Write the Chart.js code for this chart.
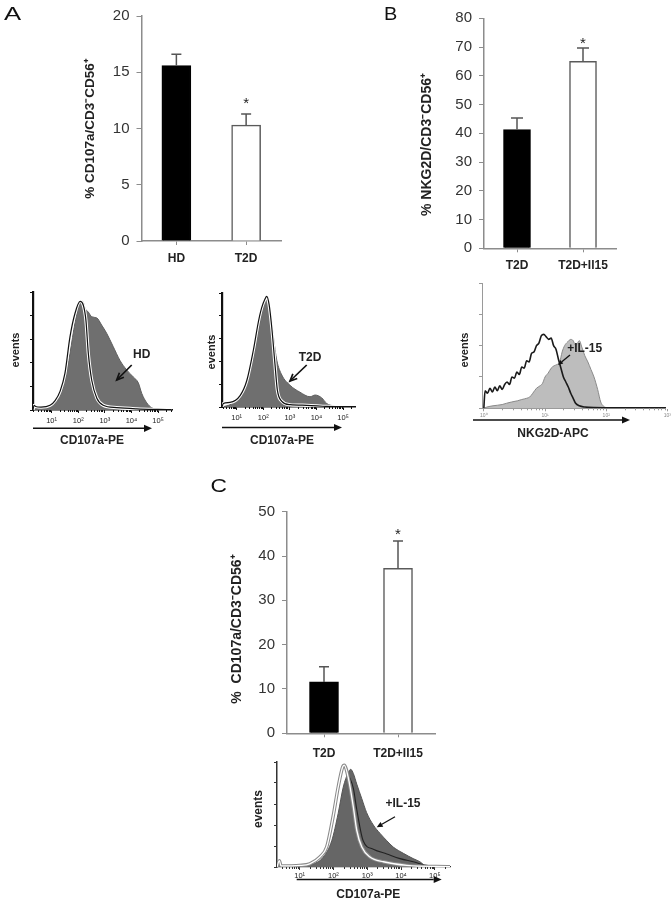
<!DOCTYPE html>
<html><head><meta charset="utf-8">
<script src="https://cdn.jsdelivr.net/npm/chart.js@4.4.1/dist/chart.umd.min.js"></script>
<style>
html,body{margin:0;padding:0;background:#fff;}
#page{position:relative;width:672px;height:903px;overflow:hidden;background:#fff;}
canvas{position:absolute;}
</style></head><body><div id="page"></div>
<script>
// ================= DATA =================
// Panel A – bar chart
const barA_labels = ['HD', 'T2D'];
const barA_values = [15.6, 10.3];
const barA_errors = [1.0, 1.0];
const barA_signif = ['', '*'];
const barA_yticks = [0, 5, 10, 15, 20];
// Panel B – bar chart
const barB_labels = ['T2D', 'T2D+Il15'];
const barB_values = [41.3, 65.0];
const barB_errors = [4.0, 4.7];
const barB_signif = ['', '*'];
const barB_yticks = [0, 10, 20, 30, 40, 50, 60, 70, 80];
// Panel C – bar chart
const barC_labels = ['T2D', 'T2D+Il15'];
const barC_values = [11.6, 37.2];
const barC_errors = [3.4, 6.2];
const barC_signif = ['', '*'];
const barC_yticks = [0, 10, 20, 30, 40, 50];

// Histogram decade tick labels
const decadeTicks = [1, 2, 3, 4, 5];
const decadeLabels = ['10¹', '10²', '10³', '10⁴', '10⁵'];
const decadeTicksB = [0, 1, 2, 3];
const decadeLabelsB = ['10⁰', '10¹', '10²', '10³'];

// Panel A left histogram (HD) – x in log10 units, y in % of max height
const hA1_fill_log = [0.30,0.38,0.60,0.94,1.15,1.32,1.50,1.69,1.88,2.07,2.17,2.26,2.38,2.51,2.70,2.88,3.07,3.31,3.57,3.82,4.07,4.26,4.39,4.58,4.76,5.08,5.50];
const hA1_fill_ev  = [0,   1,   1.5, 3,   7,   13,  25,  48,  74,  91,  92,  86,  83,  79,  78,  72,  65,  54,  42,  34,  28,  23,  14,  6,   2,   0,   0];
const hA1_ctrl_log = [0.30,0.34,0.40,0.60,0.94,1.13,1.32,1.50,1.69,1.88,2.07,2.19,2.29,2.38,2.51,2.70,2.94,3.45,4.20,5.00,5.50];
const hA1_ctrl_ev  = [0,   4,   3,   2.5, 4,   8,   16,  31,  62,  82,  92,  89,  76,  48,  25,  10,  4,   2,   1,   0.5, 0.3];
// Panel A right histogram (T2D)
const hA2_fill_log = [0.45,0.75,1.13,1.38,1.63,1.82,1.94,2.07,2.15,2.26,2.38,2.51,2.70,3.01,3.38,3.76,3.95,4.20,4.39,4.64,4.89,5.45];
const hA2_fill_ev  = [0,   2,   8,   21,  44,  68,  82,  92,  94,  85,  62,  41,  28,  19,  13,  9,   10.5,8,   3,   1,   0,   0];
const hA2_ctrl_log = [0.45,0.50,0.75,1.13,1.38,1.63,1.82,1.94,2.07,2.13,2.22,2.32,2.44,2.53,2.70,3.01,3.64,4.40,5.45];
const hA2_ctrl_ev  = [0,   3,   4,   10,  23,  50,  75,  87,  95,  97,  90,  70,  38,  15,  5,   2,   1.5, 0.5, 0.3];
// Panel B histogram (NKG2D)
const hB_fill_log = [0.00,0.05,0.15,0.30,0.37,0.45,0.55,0.62,0.70,0.75,0.80,0.86,0.92,0.96,1.00,1.05,1.10,1.15,1.20,1.24,1.28,1.32,1.37,1.42,1.46,1.50,1.53,1.56,1.60,1.65,1.70,1.75,1.80,1.86,1.91,1.96,2.02,2.30,3.00];
const hB_fill_ev  = [0,   1,   2,   3,   4,   5,   6,   7,   8,   9,   12,  16,  18,  20,  25,  28,  32,  34,  35,  37,  45,  50,  53,  55,  54,  50,  52,  54,  49,  42,  37,  31,  25,  15,  5,   1.5, 0.5, 0.3, 0.3];
const hB_ctrl_log = [0.00,0.02,0.06,0.10,0.14,0.18,0.22,0.26,0.30,0.34,0.38,0.42,0.46,0.50,0.54,0.58,0.62,0.66,0.70,0.74,0.78,0.82,0.86,0.90,0.94,0.98,1.02,1.06,1.10,1.14,1.18,1.22,1.26,1.30,1.34,1.38,1.42,1.46,1.50,1.56,1.65,1.80,2.20,3.00];
const hB_ctrl_ev  = [0,   14,  12,  16,  13,  17,  14,  18,  15,  19,  21,  19,  25,  24,  29,  27,  33,  32,  38,  37,  44,  45,  50,  52,  58,  59,  57,  55,  56,  50,  47,  39,  32,  25,  21,  17,  12,  8,   4,   2,   1,   0.5, 0.3, 0.3];
// Panel C histogram (CD107a, +IL-15)
const hC_fill_log = [0.33,0.41,1.00,1.40,1.70,1.95,2.14,2.29,2.44,2.51,2.59,2.69,2.84,2.98,3.18,3.38,3.58,3.77,4.07,4.36,4.56,4.76,5.45];
const hC_fill_ev  = [0,   0.5, 1.6, 3,   9.5, 25,  51,  76,  90,  93,  89,  79,  65,  52,  40,  32,  25,  19,  13,  8,   5,   0.5, 0];
const hC_ctrl_log = [0.33,0.40,0.45,1.00,1.30,1.60,1.80,1.99,2.14,2.27,2.32,2.44,2.59,2.69,2.84,3.08,3.48,4.17,5.45];
const hC_ctrl_ev  = [0,   6,   1,   1.5, 3,   9.5, 19,  48,  76,  95,  97,  85,  57,  35,  19,  9.5, 5,   1.6, 0.3];
const hC_line_log = [2.44,2.59,2.69,2.88,3.18,3.58,3.97,4.36,4.76,5.45];
const hC_line_ev  = [88,  75,  55,  25,  17,  12.4,8,   5,   1.6, 0.3];

// ================= HELPERS =================
const FONT = '"Liberation Sans", Arial, Helvetica, sans-serif';
Chart.defaults.font.family = FONT;

function pts(xs, ys) { return xs.map((x, i) => ({x: x, y: ys[i]})); }

function mkCanvas(id, r) {
  const c = document.createElement('canvas');
  c.id = id; c.width = r.w; c.height = r.h;
  c.style.left = r.x + 'px'; c.style.top = r.y + 'px';
  c.style.width = r.w + 'px'; c.style.height = r.h + 'px';
  document.getElementById('page').appendChild(c);
  return c;
}

function drawArrow(ctx, a) {
  const ang = Math.atan2(a.y2 - a.y1, a.x2 - a.x1);
  const h = a.head || 7, hw = h * 0.45;
  ctx.strokeStyle = a.color || '#111'; ctx.fillStyle = a.color || '#111';
  ctx.lineWidth = a.lw || 1.5;
  if (a.open) {
    ctx.beginPath(); ctx.moveTo(a.x1, a.y1); ctx.lineTo(a.x2, a.y2); ctx.stroke();
    ctx.beginPath();
    ctx.moveTo(a.x2 - h * Math.cos(ang) + hw * Math.sin(ang), a.y2 - h * Math.sin(ang) - hw * Math.cos(ang));
    ctx.lineTo(a.x2, a.y2);
    ctx.lineTo(a.x2 - h * Math.cos(ang) - hw * Math.sin(ang), a.y2 - h * Math.sin(ang) + hw * Math.cos(ang));
    ctx.stroke();
  } else {
    const bx = a.x2 - h * Math.cos(ang), by = a.y2 - h * Math.sin(ang);
    ctx.beginPath(); ctx.moveTo(a.x1, a.y1); ctx.lineTo(bx, by); ctx.stroke();
    ctx.beginPath();
    ctx.moveTo(a.x2, a.y2);
    ctx.lineTo(bx + hw * Math.sin(ang), by - hw * Math.cos(ang));
    ctx.lineTo(bx - hw * Math.sin(ang), by + hw * Math.cos(ang));
    ctx.closePath(); ctx.fill();
  }
}

function annotPlugin(rect, items) {
  return {id: 'annot', afterDraw(chart) {
    const ctx = chart.ctx;
    ctx.save(); ctx.translate(-rect.x, -rect.y);
    items.forEach(it => {
      if (it.type === 'arrow') { drawArrow(ctx, it); return; }
      ctx.save();
      ctx.translate(it.x, it.y);
      if (it.rot) ctx.rotate(it.rot);
      if (it.sx) ctx.scale(it.sx, 1);
      ctx.font = (it.weight || 'bold') + ' ' + it.size + 'px ' + FONT;
      ctx.textAlign = it.align || 'center';
      ctx.textBaseline = it.baseline || 'middle';
      ctx.fillStyle = it.color || '#222';
      ctx.fillText(it.text, 0, 0);
      ctx.restore();
    });
    ctx.restore();
  }};
}

function errorBarPlugin(st) {
  return {id: 'errbars', afterDatasetsDraw(chart) {
    const ctx = chart.ctx, ds = chart.data.datasets[0], meta = chart.getDatasetMeta(0), ys = chart.scales.y;
    ctx.save();
    ctx.strokeStyle = st.err; ctx.lineWidth = 1.5; ctx.fillStyle = '#222';
    ds.data.forEach((v, i) => {
      const x = meta.data[i].x, y0 = ys.getPixelForValue(v), y1 = ys.getPixelForValue(v + ds.errors[i]);
      ctx.beginPath();
      ctx.moveTo(x, y0); ctx.lineTo(x, y1);
      ctx.moveTo(x - st.cap / 2, y1); ctx.lineTo(x + st.cap / 2, y1);
      ctx.stroke();
      if (ds.signif[i]) {
        ctx.font = '15px ' + FONT; ctx.textAlign = 'center'; ctx.textBaseline = 'alphabetic';
        ctx.fillText(ds.signif[i], x, y1 - st.star);
      }
    });
    ctx.restore();
  }};
}

function minorTickPlugin(st) {
  return {id: 'minorTicks', afterDraw(chart) {
    const ctx = chart.ctx, xs = chart.scales.x, ys = chart.scales.y;
    ctx.save(); ctx.strokeStyle = st.axis; ctx.lineWidth = 1;
    for (let d = Math.floor(xs.min); d <= Math.ceil(xs.max); d++) {
      for (let m = 2; m <= 9; m++) {
        const L = d + Math.log10(m);
        if (L < xs.min || L > xs.max) continue;
        const px = Math.round(xs.getPixelForValue(L)) + 0.5;
        ctx.beginPath(); ctx.moveTo(px, ys.bottom); ctx.lineTo(px, ys.bottom + 2); ctx.stroke();
      }
    }
    ctx.restore();
  }};
}

function barChart(id, rect, area, labels, values, errors, signif, yticks, st, annot) {
  const cv = mkCanvas(id, rect);
  return new Chart(cv, {
    type: 'bar',
    data: {labels: labels, datasets: [{data: values, errors: errors, signif: signif,
      backgroundColor: ['#000000', '#ffffff'], borderColor: ['#000000', '#5a5a5a'],
      borderWidth: 1.5, barThickness: st.bw, borderSkipped: 'bottom'}]},
    options: {
      responsive: false, maintainAspectRatio: false, animation: false, devicePixelRatio: 1, events: [],
      layout: {padding: {left: 0, right: rect.x + rect.w - area.r, top: area.t - rect.y, bottom: 0}},
      plugins: {legend: {display: false}, tooltip: {enabled: false}},
      scales: {
        x: {offset: true,
          grid: {display: true, drawOnChartArea: false, offset: false, tickLength: 4, color: st.axis, lineWidth: 1},
          border: {display: true, color: st.axis, width: 1.5},
          ticks: {color: '#222', font: {family: FONT, size: 12, weight: 'bold'}, padding: st.xpad, maxRotation: 0, autoSkip: false},
          afterFit(s) { s.height = rect.y + rect.h - area.b; }},
        y: {min: 0, max: yticks[yticks.length - 1],
          afterBuildTicks(s) { s.ticks = yticks.map(v => ({value: v})); },
          grid: {display: true, drawOnChartArea: false, tickLength: 5, color: st.axis, lineWidth: 1},
          border: {display: true, color: st.axis, width: 1.5},
          ticks: {color: '#333', font: {family: FONT, size: 15}, padding: 7},
          afterFit(s) { s.width = area.l - rect.x; }}
      }
    },
    plugins: [errorBarPlugin(st), annotPlugin(rect, annot)]
  });
}

function histChart(id, rect, area, xr, majors, majorLabels, datasets, st, annot) {
  const cv = mkCanvas(id, rect);
  return new Chart(cv, {
    type: 'line',
    data: {datasets: datasets},
    options: {
      responsive: false, maintainAspectRatio: false, animation: false, devicePixelRatio: 1, events: [],
      layout: {padding: {left: 0, right: rect.x + rect.w - area.r, top: area.t - rect.y, bottom: 0}},
      plugins: {legend: {display: false}, tooltip: {enabled: false}},
      elements: {point: {radius: 0}},
      scales: {
        x: {type: 'linear', min: xr[0], max: xr[1],
          afterBuildTicks(s) { s.ticks = majors.map(v => ({value: v})); },
          ticks: {callback: (v, i) => majorLabels[i], color: st.tickColor, font: {family: FONT, size: st.tickSize}, padding: st.tickPad, maxRotation: 0, autoSkip: false},
          grid: {display: true, drawOnChartArea: false, tickLength: 3, color: st.axis, lineWidth: 1},
          border: {display: true, color: st.axis, width: st.xw},
          afterFit(s) { s.height = rect.y + rect.h - area.b; }},
        y: {type: 'linear', min: 0, max: 100,
          afterBuildTicks(s) { s.ticks = st.yticks.map(v => ({value: v})); },
          ticks: {display: false},
          grid: {display: true, drawOnChartArea: false, tickLength: 3, color: st.axis, lineWidth: 1},
          border: {display: true, color: st.axis, width: st.yw},
          afterFit(s) { s.width = area.l - rect.x; }}
      }
    },
    plugins: [minorTickPlugin(st), annotPlugin(rect, annot)]
  });
}

function fillSet(xs, ys, bg, bc, order) {
  return {data: pts(xs, ys), fill: 'origin', backgroundColor: bg, borderColor: bc, borderWidth: 1,
    pointRadius: 0, cubicInterpolationMode: 'monotone', order: order};
}
function lineSet(xs, ys, col, w, order) {
  return {data: pts(xs, ys), fill: false, borderColor: col, borderWidth: w,
    pointRadius: 0, cubicInterpolationMode: 'monotone', order: order};
}
const ROT = -Math.PI / 2;

// ================= BAR CHARTS =================
barChart('barA', {x: 0, y: 0, w: 300, h: 275}, {l: 141.5, t: 14, r: 281, b: 241},
  barA_labels, barA_values, barA_errors, barA_signif, barA_yticks,
  {axis: '#8c8c8c', err: '#555', bw: 29, cap: 10, star: 5.7, xpad: 6},
  [{text: 'A', x: 4, y: 20, size: 19, weight: 'normal', align: 'left', baseline: 'alphabetic', sx: 1.35, color: '#111'},
   {text: '% CD107a/CD3⁻CD56⁺', x: 90, y: 128.5, size: 13.5, rot: ROT}]);

barChart('barB', {x: 380, y: 0, w: 292, h: 285}, {l: 484, t: 18.3, r: 616, b: 248.3},
  barB_labels, barB_values, barB_errors, barB_signif, barB_yticks,
  {axis: '#8c8c8c', err: '#555', bw: 27, cap: 12, star: -0.2, xpad: 6},
  [{text: 'B', x: 384, y: 20, size: 19, weight: 'normal', align: 'left', baseline: 'alphabetic', sx: 1.05, color: '#111'},
   {text: '% NKG2D/CD3⁻CD56⁺', x: 426.7, y: 144.5, size: 14, rot: ROT}]);

barChart('barC', {x: 190, y: 470, w: 270, h: 290}, {l: 287, t: 511.7, r: 435, b: 733.3},
  barC_labels, barC_values, barC_errors, barC_signif, barC_yticks,
  {axis: '#8c8c8c', err: '#555', bw: 29, cap: 10, star: 2.4, xpad: 9},
  [{text: 'C', x: 210.5, y: 491.7, size: 19, weight: 'normal', align: 'left', baseline: 'alphabetic', sx: 1.2, color: '#111'},
   {text: '%  CD107a/CD3⁻CD56⁺', x: 236.7, y: 629, size: 14, rot: ROT}]);

// ================= HISTOGRAMS =================
histChart('histA1', {x: 0, y: 285, w: 190, h: 165}, {l: 33, t: 292, r: 172, b: 410}, [0.30, 5.526],
  decadeTicks, decadeLabels,
  [fillSet(hA1_fill_log, hA1_fill_ev, '#6f6f6f', '#5f5f5f', 3),
   lineSet(hA1_ctrl_log, hA1_ctrl_ev, '#ffffff', 3.2, 2),
   lineSet(hA1_ctrl_log, hA1_ctrl_ev, '#111111', 1.2, 1)],
  {axis: '#111', xw: 1.5, yw: 2.2, tickColor: '#222', tickSize: 7.5, tickPad: 3, yticks: [0, 20, 40, 60, 80, 100]},
  [{text: 'events', x: 16, y: 350, size: 11, rot: ROT},
   {text: 'HD', x: 141.7, y: 354.7, size: 12},
   {type: 'arrow', x1: 131.7, y1: 365, x2: 116.7, y2: 380, lw: 1.7, head: 7, open: true},
   {text: 'CD107a-PE', x: 92, y: 441, size: 12},
   {type: 'arrow', x1: 33, y1: 428.3, x2: 152, y2: 428.3, lw: 1.5, head: 8}]);

histChart('histA2', {x: 190, y: 285, w: 185, h: 165}, {l: 222, t: 293, r: 355, b: 407}, [0.45, 5.45],
  decadeTicks, decadeLabels,
  [fillSet(hA2_fill_log, hA2_fill_ev, '#6f6f6f', '#5f5f5f', 3),
   lineSet(hA2_ctrl_log, hA2_ctrl_ev, '#ffffff', 3.2, 2),
   lineSet(hA2_ctrl_log, hA2_ctrl_ev, '#111111', 1.2, 1)],
  {axis: '#111', xw: 1.5, yw: 2.2, tickColor: '#222', tickSize: 7.5, tickPad: 3, yticks: [0, 20, 40, 60, 80, 100]},
  [{text: 'events', x: 211.7, y: 352, size: 11, rot: ROT},
   {text: 'T2D', x: 310, y: 358, size: 12},
   {type: 'arrow', x1: 306.7, y1: 365, x2: 290, y2: 381, lw: 1.7, head: 7, open: true},
   {text: 'CD107a-PE', x: 282, y: 441, size: 12},
   {type: 'arrow', x1: 222, y1: 427.5, x2: 342, y2: 427.5, lw: 1.5, head: 8}]);

histChart('histB', {x: 440, y: 275, w: 232, h: 175}, {l: 482, t: 283, r: 667, b: 408.3}, [-0.03, 2.976],
  decadeTicksB, decadeLabelsB,
  [fillSet(hB_fill_log, hB_fill_ev, '#bdbdbd', '#8a8a8a', 2),
   lineSet(hB_ctrl_log, hB_ctrl_ev, '#1a1a1a', 1.6, 1)],
  {axis: '#9a9a9a', xw: 1, yw: 1, tickColor: '#888', tickSize: 5, tickPad: 1, yticks: [0, 25, 50, 75, 100]},
  [{text: 'events', x: 465, y: 350, size: 11, rot: ROT},
   {text: '+IL-15', x: 584.7, y: 349, size: 12},
   {type: 'arrow', x1: 570, y1: 355, x2: 558, y2: 365, lw: 1.3, head: 5},
   {text: 'NKG2D-APC', x: 553, y: 434, size: 12},
   {type: 'arrow', x1: 473, y1: 420, x2: 630, y2: 420, lw: 1.5, head: 8}]);

histChart('histC', {x: 240, y: 755, w: 232, h: 148}, {l: 277, t: 762, r: 450, b: 867}, [0.33, 5.45],
  decadeTicks, decadeLabels,
  [fillSet(hC_fill_log, hC_fill_ev, '#666666', '#555555', 4),
   lineSet(hC_line_log, hC_line_ev, '#222222', 1.1, 3),
   lineSet(hC_ctrl_log, hC_ctrl_ev, '#8a8a8a', 3.4, 2),
   lineSet(hC_ctrl_log, hC_ctrl_ev, '#ffffff', 1.3, 1)],
  {axis: '#333', xw: 1.2, yw: 1.5, tickColor: '#222', tickSize: 7.5, tickPad: 1, yticks: [0, 20, 40, 60, 80, 100]},
  [{text: 'events', x: 259, y: 809, size: 12, rot: ROT},
   {text: '+IL-15', x: 403, y: 804, size: 12},
   {type: 'arrow', x1: 395, y1: 816.7, x2: 376.7, y2: 827.3, lw: 1.3, head: 6},
   {text: 'CD107a-PE', x: 368.3, y: 895, size: 12},
   {type: 'arrow', x1: 296.7, y1: 879.5, x2: 441.7, y2: 879.5, lw: 1.5, head: 8}]);
</script>
</body></html>
